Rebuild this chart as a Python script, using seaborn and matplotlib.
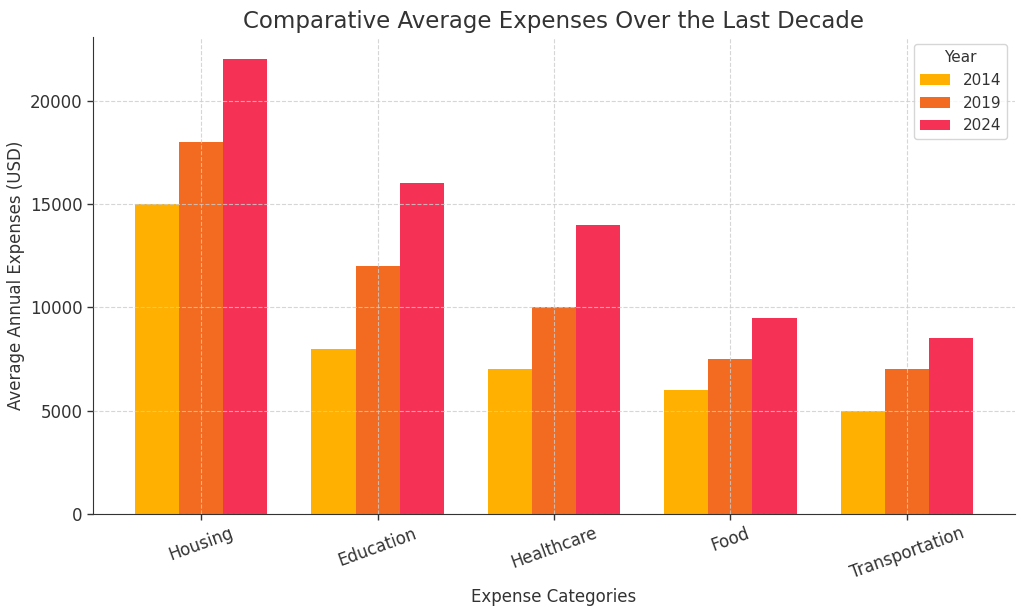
import pandas as pd
import matplotlib
matplotlib.use('Agg')
import matplotlib.pyplot as plt
import seaborn as sns

# Data
categories = ['Housing', 'Education', 'Healthcare', 'Food', 'Transportation']
years = ['2014', '2019', '2024']
expenses_2014 = [15000, 8000, 7000, 6000, 5000]
expenses_2019 = [18000, 12000, 10000, 7500, 7000]
expenses_2024 = [22000, 16000, 14000, 9500, 8500]
colors = ['#FFB000', '#F26B21', '#F53255']

df = pd.DataFrame({
    'Category': categories * 3,
    'Year': [y for y in years for _ in categories],
    'Expense': expenses_2014 + expenses_2019 + expenses_2024,
})

sns.set_style('white')
plt.rcParams['text.color'] = '#333333'
plt.rcParams['axes.labelcolor'] = '#333333'
plt.rcParams['xtick.color'] = '#333333'
plt.rcParams['ytick.color'] = '#333333'

fig, ax = plt.subplots(figsize=(10.24, 6.11), dpi=100)
sns.barplot(data=df, x='Category', y='Expense', hue='Year', palette=colors,
            width=0.75, gap=0, saturation=1, linewidth=0, ax=ax, zorder=1)

ax.set_xlim(-0.6125, 4.6125)
ax.set_ylim(0, 23100)
ax.grid(True, linestyle='--', color='#cccccc', linewidth=0.8, alpha=0.8)
ax.set_axisbelow(False)

ax.set_title('Comparative Average Expenses Over the Last Decade', fontsize=16.5)
ax.set_xlabel('Expense Categories', fontsize=12, labelpad=4)
ax.set_ylabel('Average Annual Expenses (USD)', fontsize=12)
ax.tick_params(axis='x', labelsize=12, rotation=20, length=4, width=1)
ax.tick_params(axis='y', labelsize=12, length=4, width=1)
ax.tick_params(left=True, bottom=True)

for s in ['top', 'right']:
    ax.spines[s].set_visible(False)
for s in ['left', 'bottom']:
    ax.spines[s].set_color('#333333')

ax.legend(title='Year', loc='upper right', fontsize=11, title_fontsize=11)

plt.subplots_adjust(left=0.091, right=0.991, top=0.94, bottom=0.159)
plt.savefig('out.png', dpi=100)
